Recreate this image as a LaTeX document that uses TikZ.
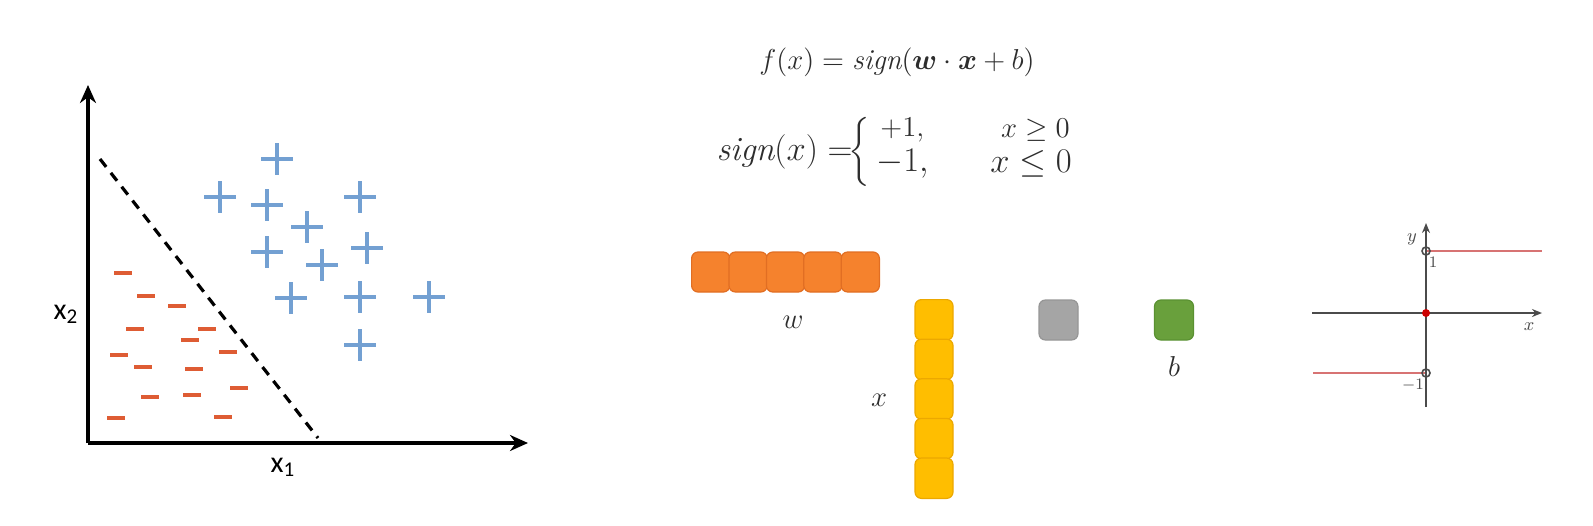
\documentclass[tikz,border=0pt]{standalone}
\usepackage{amsmath,bm}
\usepackage{fontspec}
\newfontfamily\lblfont{Carlito}
\usetikzlibrary{arrows.meta}
\definecolor{plusblue}{RGB}{115,160,210}
\definecolor{minusred}{RGB}{222,92,52}
\definecolor{wor}{RGB}{245,130,45}
\definecolor{worb}{RGB}{225,110,35}
\definecolor{xyel}{RGB}{255,190,0}
\definecolor{xyelb}{RGB}{236,168,0}
\definecolor{gbox}{RGB}{165,165,165}
\definecolor{gboxb}{RGB}{150,150,150}
\definecolor{bgreen}{RGB}{105,160,60}
\definecolor{bgreenb}{RGB}{90,145,50}
\definecolor{axgray}{RGB}{75,75,75}
\definecolor{stepred}{RGB}{215,115,115}
\definecolor{txtgray}{RGB}{45,45,45}
\tikzset{
  plusm/.pic={\draw[plusblue,line width=1.6pt] (-16,0)--(16,0) (0,-16)--(0,16);},
  minusm/.pic={\draw[minusred,line width=1.9pt] (-9,0)--(9,0);},
  cell/.style={rounded corners=3.2pt,inner sep=0pt,line width=0.6pt},
  wcell/.style={cell,fill=wor,draw=worb,minimum width=19.1pt,minimum height=20pt},
  xcell/.style={cell,fill=xyel,draw=xyelb,minimum width=19pt,minimum height=20.2pt},
  sqcell/.style={cell,minimum width=19.5pt,minimum height=20pt},
  axisline/.style={line width=1.6pt,-{Stealth[length=9pt,width=8pt]}},
  steparrow/.style={axgray,line width=1.1pt,-{Stealth[length=5pt,width=4pt]}},
  mathlbl/.style={inner sep=0pt,text=txtgray,font=\fontsize{15}{17}\selectfont},
  formula/.style={inner sep=0pt,text=txtgray},
  smalllbl/.style={inner sep=0pt,text=axgray,font=\fontsize{8}{9}\selectfont},
}
\begin{document}
\begin{tikzpicture}[x=0.5pt,y=-0.5pt]
\useasboundingbox (0,0) rectangle (1593,525);
% ---------------- left scatter plot
\coordinate (O) at (88,443);
\coordinate (ytip) at (88,85);
\coordinate (xtip) at (528,443);
\draw[axisline] (O) -- (ytip);
\draw[axisline] (O) -- (xtip);
\coordinate (d1) at (100,159);
\coordinate (d2) at (318,438);
\draw[line width=1.6pt,dash pattern=on 5pt off 3.8pt] (d1) -- (d2);
\node[inner sep=0pt,font=\lblfont\fontsize{15}{17}\selectfont] (x1lbl) at (283,467) {x\textsubscript{1}};
\node[inner sep=0pt,font=\lblfont\fontsize{15}{17}\selectfont] (x2lbl) at (66,314) {x\textsubscript{2}};
\foreach \p in {(277,159),(220,197),(267,205),(360,197),(307,227),(267,252),(367,248),(322,265),(291,298),(360,297),(429,297),(360,345)}
  \pic at \p {plusm};
\foreach \p in {(123,273),(146,296),(177,306),(135,329),(207,329),(190,340),(119,355),(228,352),(143,367),(194,369),(239,388),(150,397),(192,395),(116,418),(223,417)}
  \pic at \p {minusm};
% ---------------- formulas
\node[formula,font=\fontsize{14.5}{16}\selectfont] (fx) at (897,62) {$f(x)=\mathit{sign}(\bm{w}\cdot\bm{x}+b)$};
\node[formula,anchor=east,font=\fontsize{17}{19}\selectfont] (sgn) at (853,152) {$\mathit{sign}(x)=$};
\node[formula,anchor=east,font=\fontsize{14}{16}\selectfont] (brace) at (870,152) {$\nulldelimiterspace=0pt\left\{\vrule height 14pt depth 14pt width 0pt\right.$};
\node[formula,anchor=west,font=\fontsize{14.6}{16}\selectfont] (r1a) at (880,130) {$+1,$};
\node[formula,anchor=east,font=\fontsize{15}{17}\selectfont] (r1b) at (1070,130) {$x\geq 0$};
\node[formula,anchor=west,font=\fontsize{18}{20}\selectfont] (r2a) at (876,164) {$-1,$};
\node[formula,anchor=east,font=\fontsize{18.4}{20}\selectfont] (r2b) at (1072,164) {$x\leq 0$};
% ---------------- w row
\foreach \i in {0,...,4}
  \node[wcell] (w\i) at ({710.7+37.4*\i},272) {};
\node[mathlbl] (wlbl) at (793,322) {$w$};
% ---------------- x column
\foreach \i in {0,...,4}
  \node[xcell] (x\i) at (934,{319.8+39.6*\i}) {};
\node[mathlbl] (xlbl) at (879,400) {$x$};
% ---------------- gray and green
\node[sqcell,fill=gbox,draw=gboxb] (gray) at (1058.5,320) {};
\node[sqcell,fill=bgreen,draw=bgreenb] (bcell) at (1174,320) {};
\node[mathlbl] (blbl) at (1174,366) {$b$};
% ---------------- step function plot
\coordinate (sO) at (1426,313);
\coordinate (sbot) at (1426,407);
\coordinate (stop) at (1426,223);
\coordinate (sleft) at (1312,313);
\coordinate (sright) at (1542,313);
\coordinate (up0) at (1426,251);
\coordinate (up1) at (1542,251);
\coordinate (lo0) at (1313,373);
\coordinate (lo1) at (1426,373);
\draw[stepred,line width=1.2pt] (up0) -- (up1);
\draw[stepred,line width=1.2pt] (lo0) -- (lo1);
\draw[steparrow] (sbot) -- (stop);
\draw[steparrow] (sleft) -- (sright);
\draw[axgray,line width=0.8pt] (up0) circle (4);
\draw[axgray,line width=0.8pt] (lo1) circle (4);
\fill[red!80!black] (sO) circle (4);
\node[smalllbl,font=\fontsize{9}{10}\selectfont] (ylbl) at (1412,239) {$y$};
\node[smalllbl] (onelbl) at (1433,262) {1};
\node[smalllbl,font=\fontsize{9}{10}\selectfont] (xslbl) at (1529,327) {$x$};
\node[smalllbl] (mlbl) at (1413,385) {$-1$};
\end{tikzpicture}
\end{document}
